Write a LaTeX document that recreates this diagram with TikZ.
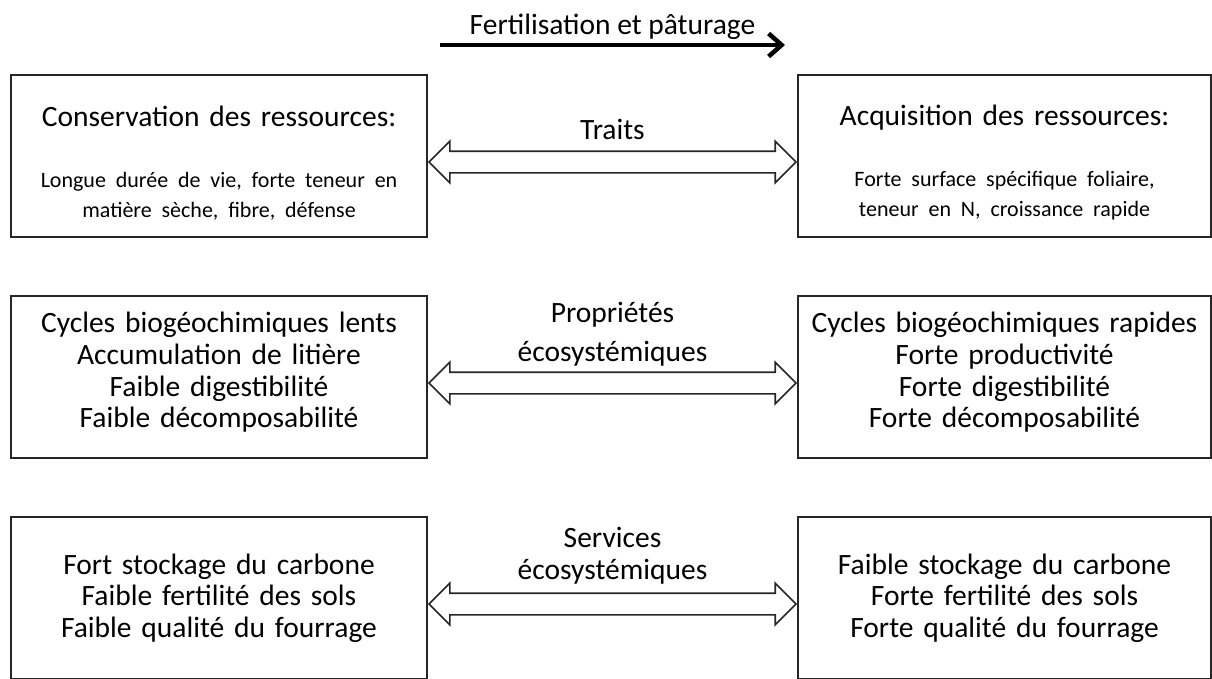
\documentclass[tikz,border=0pt]{standalone}
\usepackage{fontspec}
\setmainfont{Carlito}
\usetikzlibrary{positioning}
\usetikzlibrary{arrows.meta,shapes.arrows}
\usetikzlibrary{calc}
\tikzstyle{bigbox}=[draw=black!85,line width=1.6pt,minimum height=162pt,inner sep=0pt,text width=405pt,align=center,font=\fontsize{29.5}{31.5}\selectfont]
\tikzstyle{hollow}=[double arrow,draw=black!85,line width=1.6pt,fill=white,minimum height=367pt,double arrow head extend=10pt,double arrow tip angle=90,inner xsep=0pt,inner ysep=10pt]
\tikzstyle{midtext}=[align=center,inner sep=1pt,font=\fontsize{29.5}{32}\selectfont]
\tikzstyle{toparrow}=[draw,line width=4.5pt,-{Straight Barb[length=13pt,width=23pt]}]
\newcommand{\smalltxt}{\fontsize{22}{30}\selectfont}

\begin{document}
\begin{tikzpicture}[x=1pt,y=-1pt]
    \useasboundingbox (0,0) rectangle (1212,678);

    % left boxes
    \foreach \pos/\name/\content in {{(219,156)/L1/{\rule{0pt}{34pt}Conservation des ressources:\\[31pt]{\smalltxt Longue durée de vie, forte teneur en\\ matière sèche, fibre, défense\endgraf}}},
        {(219,377)/L2/{Cycles biogéochimiques lents\\ Accumulation de litière\\ Faible digestibilité\\ Faible décomposabilité\rule[-14pt]{0pt}{0pt}}},
        {(219,598)/L3/{Fort stockage du carbone\\ Faible fertilité des sols\\ Faible qualité du fourrage}}}
        \node[bigbox,minimum width=416pt] (\name) at \pos {\content};

    % right boxes
    \foreach \pos/\name/\content in {{(1004.5,156)/R1/{\rule{0pt}{34pt}Acquisition des ressources:\\[31pt]{\smalltxt Forte surface spécifique foliaire,\\ teneur en N, croissance rapide\endgraf}}},
        {(1004.5,377)/R2/{Cycles biogéochimiques rapides\\ Forte productivité\\ Forte digestibilité\\ Forte décomposabilité\rule[-14pt]{0pt}{0pt}}},
        {(1004.5,598)/R3/{Faible stockage du carbone\\ Forte fertilité des sols\\ Forte qualité du fourrage}}}
        \node[bigbox,minimum width=413pt] (\name) at \pos {\content};

    % double arrows between the boxes
    \foreach \source/\dest/\name in {L1/R1/A1, L2/R2/A2, L3/R3/A3}
        \path ($(\source.east)+(0,6)$) -- node[hollow] (\name) {} ($(\dest.west)+(0,6)$);

    \node[midtext,above=9pt of A1] (T1) {Traits};
    \node[midtext,above=4pt of A2] (T2) {Propriétés\\[7pt] écosystémiques};
    \node[midtext,above=7pt of A3] (T3) {Services\\ écosystémiques};

    % top arrow
    \coordinate (fs) at (440,45);
    \coordinate (fe) at (785,45);
    \draw[toparrow] (fs) -- node[midtext,above=2pt] (ftitle) {Fertilisation et pâturage} (fe);

\end{tikzpicture}
\end{document}
